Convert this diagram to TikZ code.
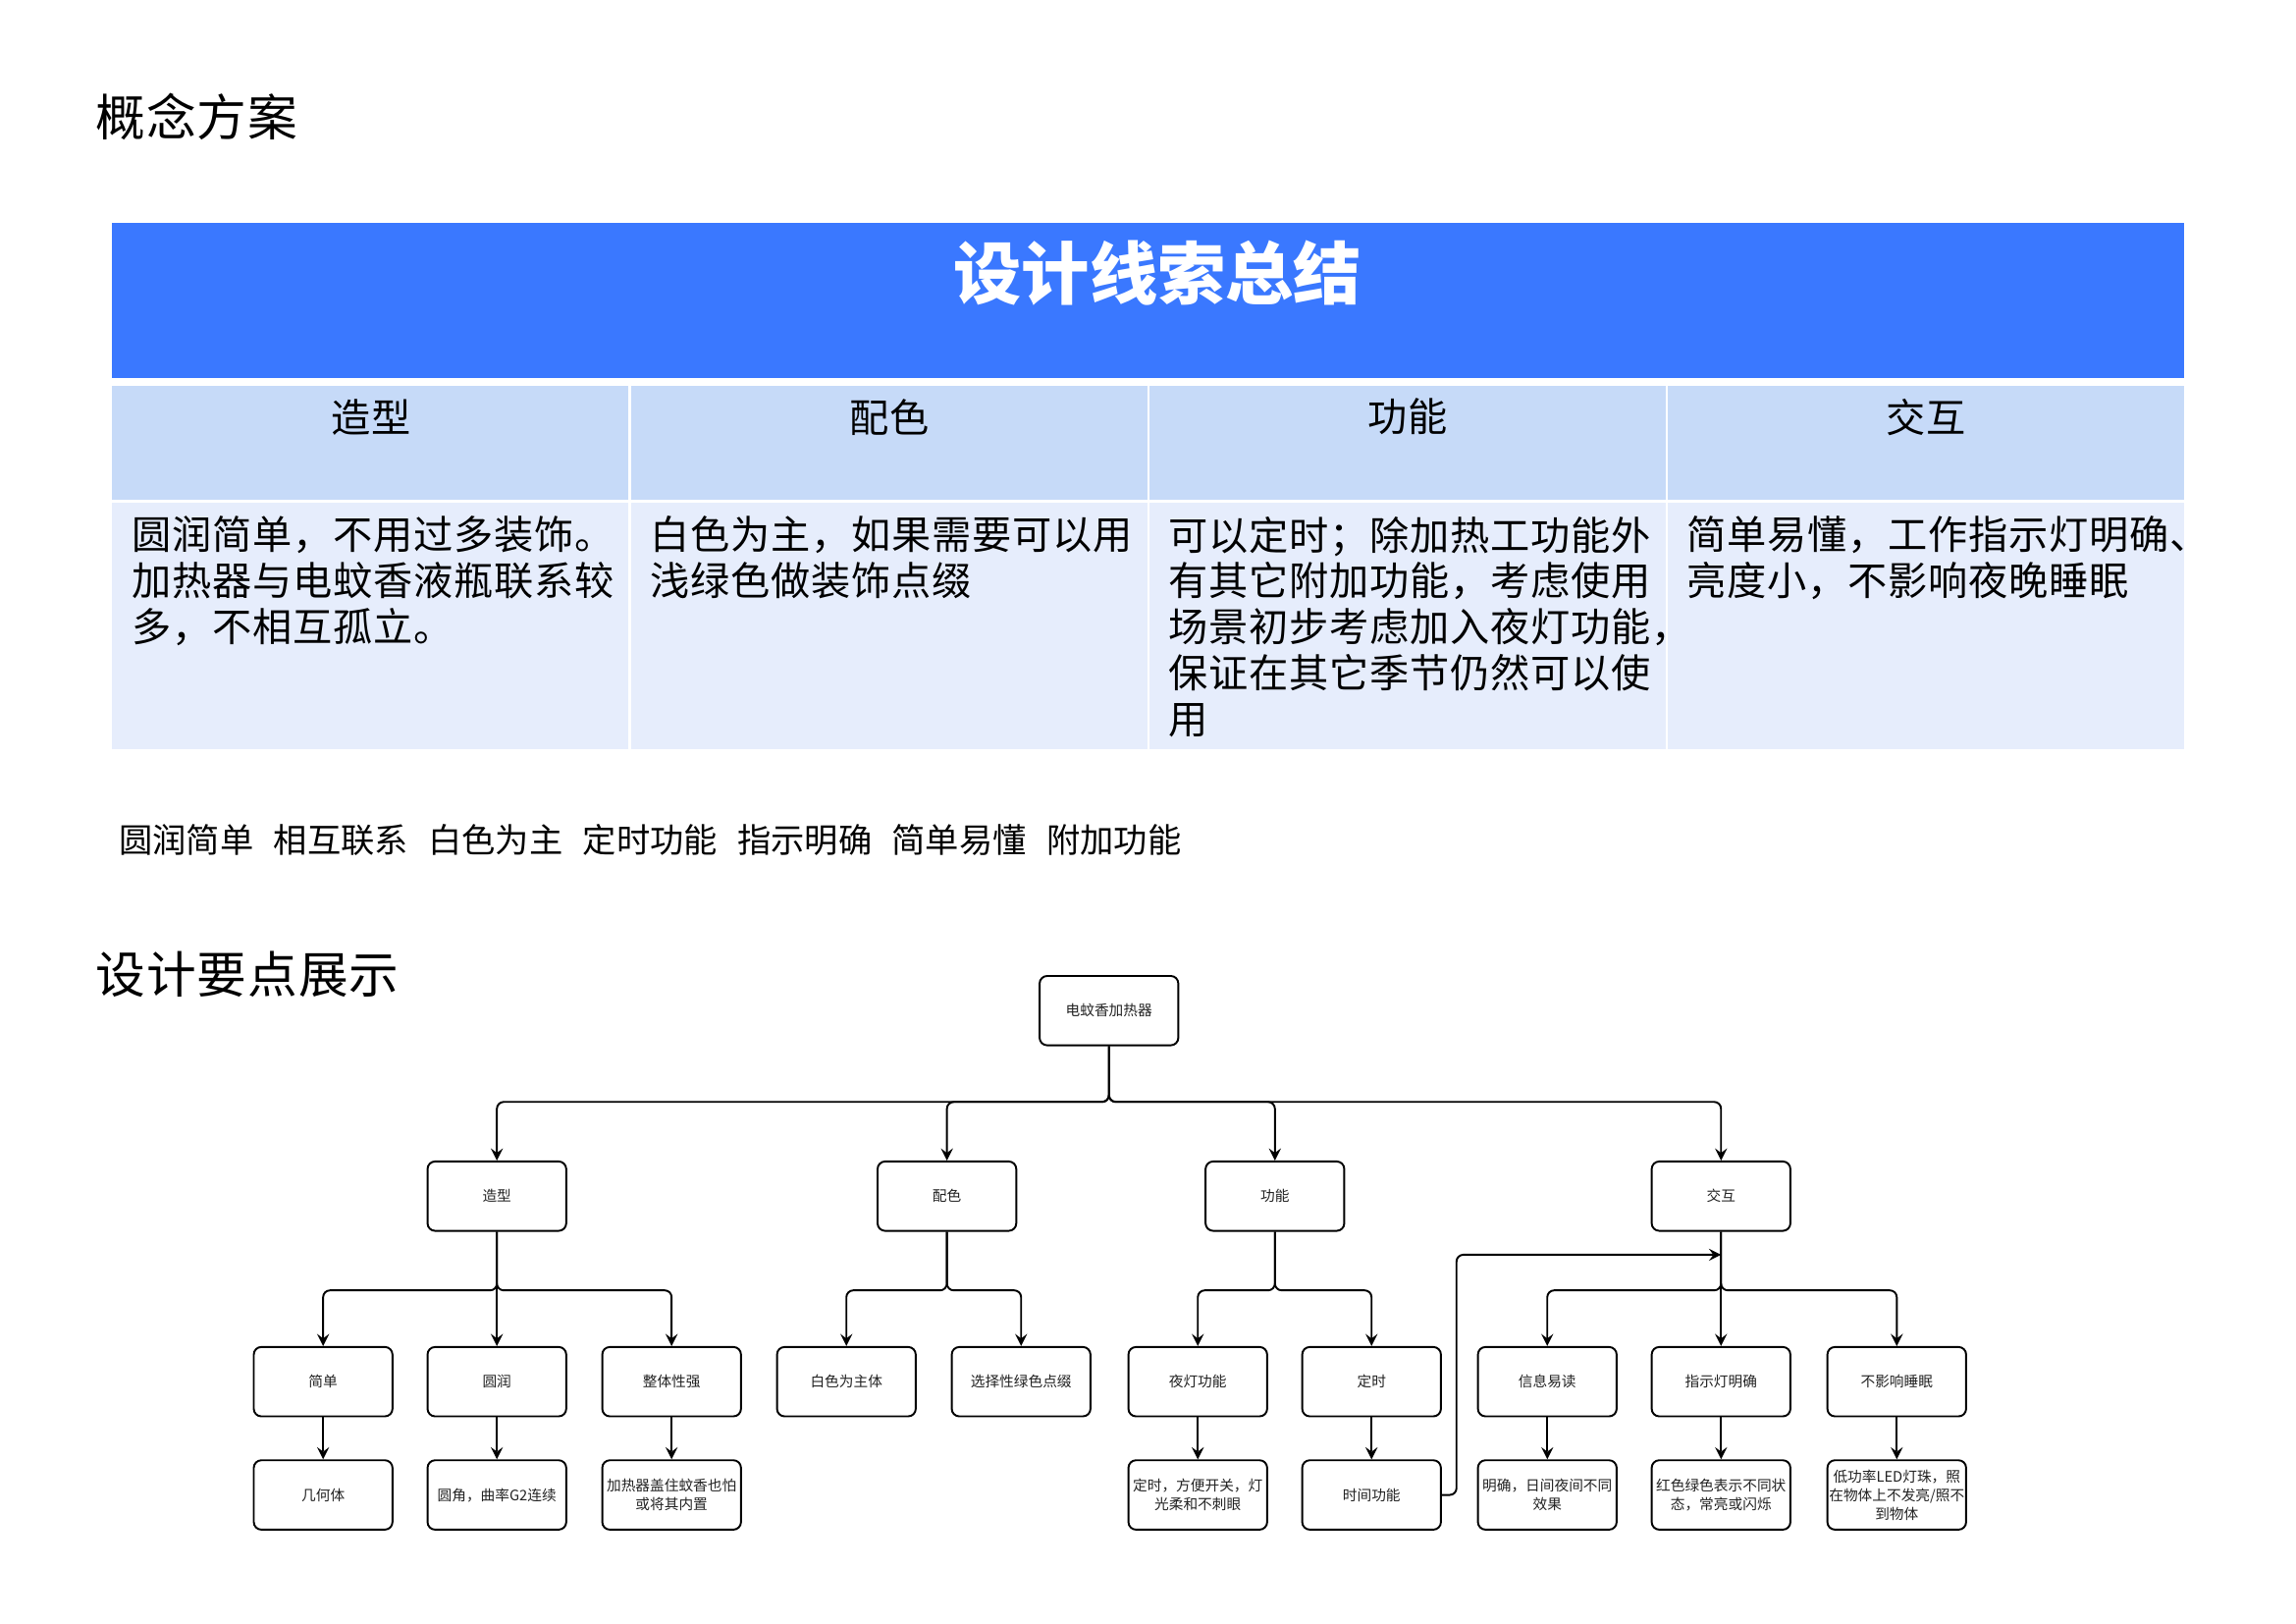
\documentclass[tikz,border=0pt]{standalone}
\usepackage{fontspec}
\setmainfont{Noto Sans CJK SC}
\newfontfamily\spacedcjk[LetterSpace=2]{Noto Sans CJK SC}
\usetikzlibrary{arrows}
\definecolor{hdblue}{HTML}{3A78FF}
\definecolor{cellhd}{HTML}{C6DAF8}
\definecolor{cellbd}{HTML}{E6EDFC}
\definecolor{boxtext}{HTML}{222222}
\tikzstyle{arrow} = [->,>=stealth]
\tikzstyle{box} = [draw, rounded corners=2.2pt, minimum width=1.42cm, minimum height=0.71cm, inner sep=0pt, align=center, text=boxtext, font=\fontsize{4.2}{5.4}\selectfont]
\tikzstyle{celltext} = [anchor=north west, inner sep=0pt, align=left, font=\spacedcjk\fontsize{11.5}{13.4}\selectfont]

\begin{document}
\begin{tikzpicture}[x=0.01cm, y=-0.01cm, line width=0.55pt]
        \useasboundingbox (0,0) rectangle (2352,1663);

        % Headings
        \node[anchor=west, inner sep=0pt, font=\spacedcjk\fontsize{14.5}{16}\selectfont] (gnfa) at (97,120) {概念方案};
        \node[anchor=west, inner sep=0pt, font=\spacedcjk\fontsize{14.5}{16}\selectfont] (yddz) at (97,998) {设计要点展示};

        % Table
        \fill[hdblue] (115,228) rectangle (2237,387);
        \node[text=white, font=\fontsize{19.8}{22}\selectfont\bfseries] (xszj) at (1186,280) {设计线索总结};
        \fill[cellhd] (115,395) rectangle (644,512);
        \fill[cellhd] (647,395) rectangle (1175,512);
        \fill[cellhd] (1177,395) rectangle (1706,512);
        \fill[cellhd] (1708,395) rectangle (2237,512);
        \fill[cellbd] (115,515) rectangle (644,767);
        \fill[cellbd] (647,515) rectangle (1175,767);
        \fill[cellbd] (1177,515) rectangle (1706,767);
        \fill[cellbd] (1708,515) rectangle (2237,767);

        \node[font=\spacedcjk\fontsize{11.5}{13.4}\selectfont] (hzx) at (380,427) {造型};
        \node[font=\spacedcjk\fontsize{11.5}{13.4}\selectfont] (hps) at (911,427) {配色};
        \node[font=\spacedcjk\fontsize{11.5}{13.4}\selectfont] (hgn) at (1442,427) {功能};
        \node[font=\spacedcjk\fontsize{11.5}{13.4}\selectfont] (hjh) at (1973,427) {交互};

        \node[celltext] (tzx) at (134,528) {圆润简单，不用过多装饰。\\加热器与电蚊香液瓶联系较\\多，不相互孤立。};
        \node[celltext] (tps) at (665,528) {白色为主，如果需要可以用\\浅绿色做装饰点缀};
        \node[celltext] (tgn) at (1196,528) {可以定时；除加热工功能外\\有其它附加功能，考虑使用\\场景初步考虑加入夜灯功能，\\保证在其它季节仍然可以使\\用};
        \node[celltext] (tjh) at (1727,528) {简单易懂，工作指示灯明确、\\亮度小，不影响夜晚睡眠};

        \node[anchor=west, inner sep=0pt, font=\fontsize{9.8}{12}\selectfont] (gjc) at (121,860) {\spaceskip=0.205cm\relax 圆润简单 相互联系 白色为主 定时功能 指示明确 简单易懂 附加功能};

        % Tree nodes
        \node[box] (top) at (1136,1035) {电蚊香加热器};

        \node[box] (zx) at (509,1225) {造型};
        \node[box] (ps) at (970,1225) {配色};
        \node[box] (gn) at (1306,1225) {功能};
        \node[box] (jh) at (1763,1225) {交互};

        \node[box] (jd) at (331,1415) {简单};
        \node[box] (yr) at (509,1415) {圆润};
        \node[box] (zt) at (688,1415) {整体性强};
        \node[box] (bs) at (867,1415) {白色为主体};
        \node[box] (lv) at (1046,1415) {选择性绿色点缀};
        \node[box] (yd) at (1227,1415) {夜灯功能};
        \node[box] (ds) at (1405,1415) {定时};
        \node[box] (xx) at (1585,1415) {信息易读};
        \node[box] (zs) at (1763,1415) {指示灯明确};
        \node[box] (bx) at (1943,1415) {不影响睡眠};

        \node[box] (jht) at (331,1531) {几何体};
        \node[box] (yj) at (509,1531) {圆角，曲率G2连续};
        \node[box] (gz) at (688,1531) {加热器盖住蚊香也怕\\或将其内置};
        \node[box] (dskg) at (1227,1531) {定时，方便开关，灯\\光柔和不刺眼};
        \node[box] (sjgn) at (1405,1531) {时间功能};
        \node[box] (mq) at (1585,1531) {明确，日间夜间不同\\效果};
        \node[box] (hl) at (1763,1531) {红色绿色表示不同状\\态，常亮或闪烁};
        \node[box] (dgl) at (1943,1531) {低功率LED灯珠，照\\在物体上不发亮/照不\\到物体};

        \coordinate (jhm) at (1763,1285);

        % Connectors
        \draw[arrow, rounded corners=2pt] (top.south) -- ++(0,57) -| (zx.north);
        \draw[arrow, rounded corners=2pt] (top.south) -- ++(0,57) -| (ps.north);
        \draw[arrow, rounded corners=2pt] (top.south) -- ++(0,57) -| (gn.north);
        \draw[arrow, rounded corners=2pt] (top.south) -- ++(0,57) -| (jh.north);

        \draw[arrow, rounded corners=2pt] (zx.south) -- ++(0,60) -| (jd.north);
        \draw[arrow] (zx) -- (yr);
        \draw[arrow, rounded corners=2pt] (zx.south) -- ++(0,60) -| (zt.north);
        \draw[arrow, rounded corners=2pt] (ps.south) -- ++(0,60) -| (bs.north);
        \draw[arrow, rounded corners=2pt] (ps.south) -- ++(0,60) -| (lv.north);
        \draw[arrow, rounded corners=2pt] (gn.south) -- ++(0,60) -| (yd.north);
        \draw[arrow, rounded corners=2pt] (gn.south) -- ++(0,60) -| (ds.north);
        \draw[arrow, rounded corners=2pt] (jh.south) -- ++(0,60) -| (xx.north);
        \draw[arrow] (jh) -- (zs);
        \draw[arrow, rounded corners=2pt] (jh.south) -- ++(0,60) -| (bx.north);

        \draw[arrow] (jd) -- (jht);
        \draw[arrow] (yr) -- (yj);
        \draw[arrow] (zt) -- (gz);
        \draw[arrow] (yd) -- (dskg);
        \draw[arrow] (ds) -- (sjgn);
        \draw[arrow] (xx) -- (mq);
        \draw[arrow] (zs) -- (hl);
        \draw[arrow] (bx) -- (dgl);

        \draw[arrow, rounded corners=2pt] (sjgn.east) -- ++(15,0) |- (jhm);
\end{tikzpicture}
\end{document}
